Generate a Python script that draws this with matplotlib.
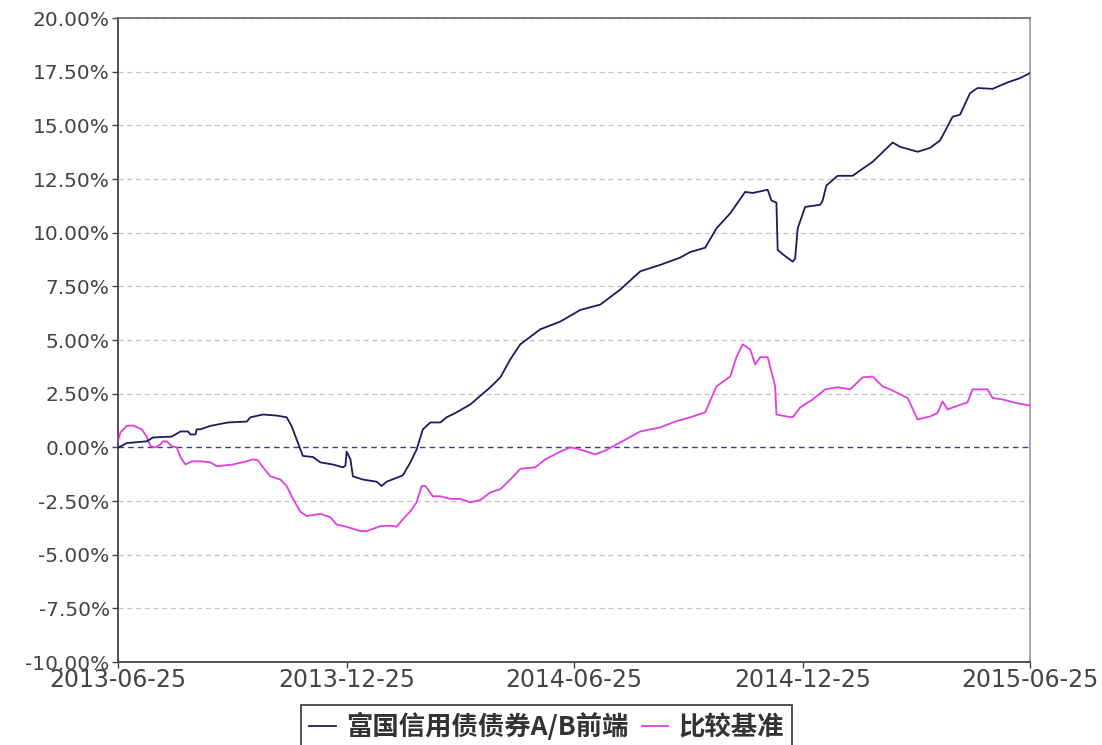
import pandas as pd
import numpy as np
import matplotlib
matplotlib.use("Agg")
import matplotlib.pyplot as plt
from matplotlib.ticker import FuncFormatter

# 起始日期, 以及读取的各点(距起始日的天数, 收益率%)
START = "2013-06-25"

fund_days = [0, 2, 4, 7, 23, 28, 43, 50, 56, 58, 62, 63, 66, 74, 88, 103, 106, 116, 127, 135,
             139, 146, 148, 156, 162, 172, 180, 182, 183, 186, 188, 196, 207, 211, 215, 226, 228,
             234, 239, 244, 250, 258, 263, 270, 282, 298, 306, 314, 322, 338, 354, 370, 386, 402,
             418, 434, 450, 458, 470, 479, 490, 502, 508, 520, 523, 527, 528, 532, 540, 542, 544,
             550, 562, 564, 567, 576, 588, 594, 604, 620, 626, 640, 650, 658, 668, 674, 682, 688,
             700, 712, 722, 730]
fund_vals = [0.0, 0.05, 0.1, 0.2, 0.28, 0.46, 0.5, 0.74, 0.74, 0.6, 0.6, 0.84, 0.84, 1.0, 1.16,
             1.2, 1.4, 1.53, 1.48, 1.4, 0.98, -0.1, -0.4, -0.45, -0.7, -0.8, -0.93, -0.85, -0.2,
             -0.55, -1.35, -1.5, -1.6, -1.8, -1.6, -1.35, -1.3, -0.7, -0.1, 0.84, 1.16, 1.16, 1.4,
             1.6, 2.0, 2.8, 3.26, 4.1, 4.8, 5.5, 5.86, 6.4, 6.65, 7.35, 8.2, 8.5, 8.84, 9.1, 9.3,
             10.2, 10.9, 11.9, 11.85, 12.0, 11.5, 11.4, 9.2, 9.0, 8.65, 8.8, 10.2, 11.2, 11.3,
             11.5, 12.2, 12.65, 12.65, 12.9, 13.3, 14.2, 14.0, 13.77, 13.95, 14.3, 15.4, 15.5,
             16.5, 16.74, 16.7, 17.0, 17.2, 17.44]

bench_days = [0, 2, 7, 12, 19, 23, 26, 30, 34, 36, 39, 43, 47, 50, 54, 59, 66, 74, 79, 92, 103,
              108, 112, 116, 122, 130, 135, 140, 146, 151, 162, 170, 175, 183, 194, 199, 204, 210,
              218, 223, 228, 234, 239, 243, 246, 252, 258, 266, 274, 282, 290, 298, 306, 314, 322,
              334, 342, 354, 362, 370, 382, 390, 402, 418, 434, 446, 458, 470, 479, 490, 495, 500,
              506, 510, 514, 520, 526, 527, 535, 540, 546, 556, 566, 576, 586, 596, 604, 612, 618,
              632, 640, 650, 656, 660, 664, 680, 684, 696, 700, 708, 720, 730]
bench_vals = [0.3, 0.7, 1.0, 1.02, 0.84, 0.5, 0.05, 0.0, 0.14, 0.28, 0.28, 0.05, 0.0, -0.46, -0.8,
              -0.65, -0.65, -0.7, -0.88, -0.8, -0.65, -0.56, -0.6, -0.93, -1.35, -1.5, -1.8, -2.4,
              -3.0, -3.2, -3.1, -3.26, -3.6, -3.7, -3.9, -3.9, -3.8, -3.67, -3.65, -3.7, -3.35,
              -2.98, -2.56, -1.8, -1.8, -2.28, -2.28, -2.4, -2.4, -2.56, -2.45, -2.1, -1.95, -1.5,
              -1.0, -0.93, -0.56, -0.2, 0.0, -0.1, -0.33, -0.15, 0.23, 0.74, 0.93, 1.2, 1.4, 1.63,
              2.84, 3.3, 4.2, 4.8, 4.56, 3.86, 4.2, 4.2, 2.84, 1.53, 1.44, 1.4, 1.86, 2.23, 2.7,
              2.8, 2.7, 3.26, 3.3, 2.84, 2.7, 2.3, 1.3, 1.44, 1.6, 2.14, 1.77, 2.1, 2.7, 2.7, 2.3,
              2.23, 2.05, 1.95]

series_names = ["富国信用债债券A/B前端", "比较基准"]
xtick_labels = ["2013-06-25", "2013-12-25", "2014-06-25", "2014-12-25", "2015-06-25"]
yticks = np.arange(-10, 20.01, 2.5)

NAVY = "#1c1c5c"
PINK = "#e03ee0"

start = pd.Timestamp(START)
fund_dates = start + pd.to_timedelta(fund_days, unit="D")
bench_dates = start + pd.to_timedelta(bench_days, unit="D")
xticks = pd.to_datetime(xtick_labels)

fig = plt.figure(figsize=(11.02, 7.45), dpi=100)
ax = fig.add_axes([0.1071, 0.1114, 0.8276, 0.8644])

for y in yticks:
    if abs(y) < 1e-9:
        ax.axhline(y, color="#3c3c88", lw=1.0, ls=(0, (4, 3)), zorder=1)
    else:
        ax.axhline(y, color="#c4c4c4", lw=0.9, ls=(0, (4, 3)), zorder=1)

ax.plot(bench_dates, bench_vals, color=PINK, lw=1.3, label=series_names[1], zorder=3)
ax.plot(fund_dates, fund_vals, color=NAVY, lw=1.3, label=series_names[0], zorder=4)

ax.set_xlim(xticks[0], xticks[-1])
ax.set_ylim(-10, 20)
ax.set_yticks(yticks)
ax.yaxis.set_major_formatter(FuncFormatter(lambda v, p: f"{v:.2f}%"))
ax.set_xticks(xticks)
ax.set_xticklabels(xtick_labels)

ax.tick_params(axis="y", labelsize=14.5, colors="#444444", length=4, width=1, pad=2)
ax.tick_params(axis="x", labelsize=17, colors="#444444", length=4, width=1, pad=0)
for side in ["left", "bottom"]:
    ax.spines[side].set_color("#444444")
    ax.spines[side].set_linewidth(1.3)
ax.spines["top"].set_color("#666666")
ax.spines["top"].set_linewidth(1.2)
ax.spines["right"].set_color("#999999")
ax.spines["right"].set_linewidth(1.2)

handles, labels = ax.get_legend_handles_labels()
order = [1, 0]
leg = fig.legend([handles[i] for i in order], [labels[i] for i in order],
                 loc="upper center", bbox_to_anchor=(0.496, 0.0537), ncol=2, borderaxespad=0,
                 frameon=True, fancybox=False, edgecolor="#000000", handlelength=1.0,
                 handletextpad=0.4, columnspacing=0.5, borderpad=0.3,
                 prop={"family": ["Noto Sans CJK SC", "DejaVu Sans"], "size": 19, "weight": "bold"})
leg.get_frame().set_linewidth(1.2)
for t in leg.get_texts():
    t.set_color("#333333")

fig.savefig("out.png", dpi=100)
